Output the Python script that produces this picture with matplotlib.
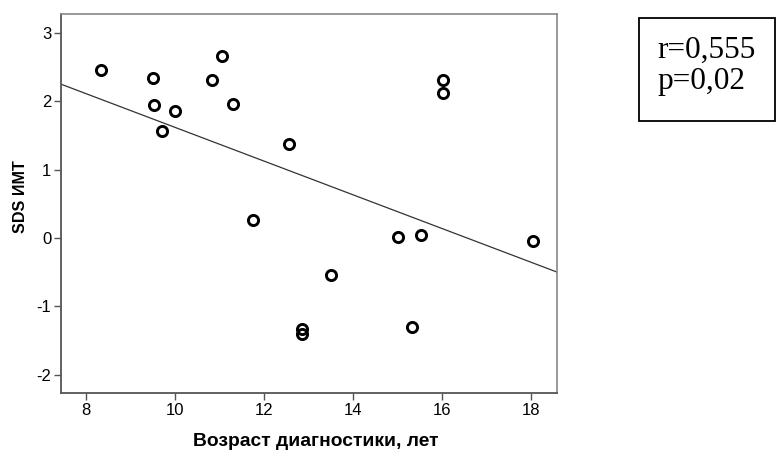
import matplotlib
matplotlib.use("Agg")
import matplotlib.pyplot as plt
import numpy as np
from matplotlib.patches import Rectangle

# Data
age = [8.34, 9.51, 9.53, 9.71, 10.0, 10.83, 11.06, 11.30, 12.56, 11.75,
       16.02, 16.02, 15.01, 15.53, 18.03, 13.50, 12.85, 12.85, 15.33]
sds_bmi = [2.46, 2.34, 1.95, 1.56, 1.86, 2.31, 2.66, 1.96, 1.37, 0.27,
           2.31, 2.13, 0.01, 0.04, -0.04, -0.54, -1.33, -1.40, -1.30]
fit_intercept = 4.09
fit_slope = -0.247
x_ticks = [8, 10, 12, 14, 16, 18]
y_ticks = [-2, -1, 0, 1, 2, 3]
stats_text = "r=0,555\np=0,02"

plt.rcParams['font.family'] = ['Liberation Sans', 'DejaVu Sans']
plt.rcParams['axes.unicode_minus'] = False

fig = plt.figure(figsize=(7.76, 4.5), dpi=100)
ax = fig.add_axes([61/776, 1-393/450, (557-61)/776, (393-14)/450])

xlim = (7.44, 18.58)
ylim = (-2.27, 3.28)
xs = np.array(xlim)
ax.plot(xs, fit_intercept + fit_slope*xs, color='#333333', lw=0.9, zorder=2)
ax.plot(age, sds_bmi, linestyle='none', marker='o', markersize=7.3,
        markerfacecolor='none', markeredgecolor='black', markeredgewidth=2.1, zorder=3)

ax.set_xlim(*xlim)
ax.set_ylim(*ylim)
ax.set_xticks(x_ticks)
ax.set_yticks(y_ticks)
ax.tick_params(direction='out', length=5, width=1, color='#555555',
               labelsize=12, pad=2)
for s in ['left', 'bottom']:
    ax.spines[s].set_color('#555555')
    ax.spines[s].set_linewidth(1.3)
for s in ['top', 'right']:
    ax.spines[s].set_color('#888888')
    ax.spines[s].set_linewidth(1.2)

ax.set_xlabel("Возраст диагностики, лет", fontsize=13.9, fontweight='bold')
ax.xaxis.label.set_va('baseline')
ax.xaxis.set_label_coords((316-61)/496, (393-446)/379)
ax.set_ylabel("SDS ИМТ", fontsize=11.6, fontweight='bold')
ax.yaxis.label.set_va('center')
ax.yaxis.set_label_coords((20-61)/496, (393-197)/379)

# stats box
rect = Rectangle((639/776, 1-121/450), (775-639)/776, (121-18)/450,
                 transform=fig.transFigure, fill=False, edgecolor='black', lw=1.3)
fig.add_artist(rect)
fig.text(657/776, 1-66/450, stats_text, family=['Liberation Serif'], fontsize=22.5,
         ha='left', va='center', linespacing=1.12)

fig.savefig("out.png", dpi=100)
